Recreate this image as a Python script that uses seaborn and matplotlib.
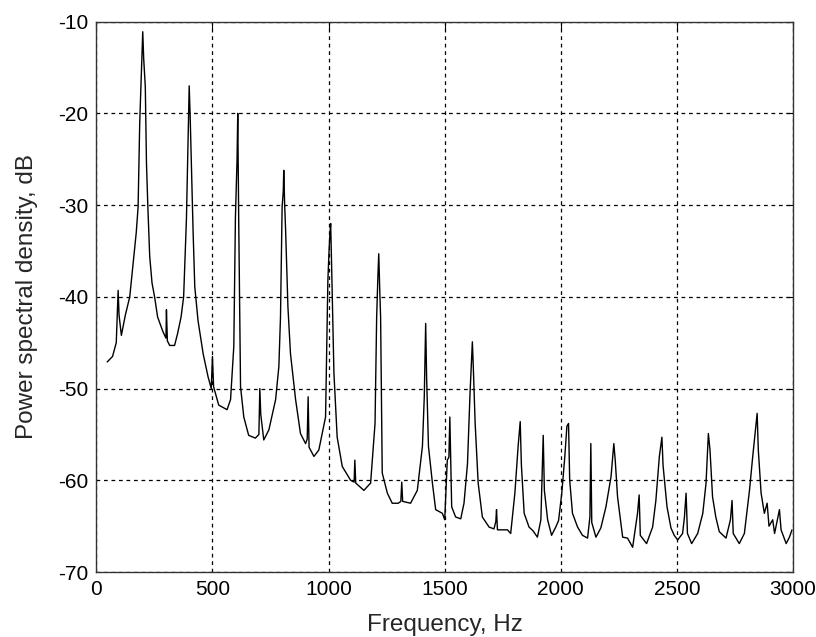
import numpy as np
import pandas as pd
import matplotlib
matplotlib.use('Agg')
import matplotlib.pyplot as plt
import seaborn as sns

# Frequenzen (Hz)
freq = [47, 70, 86, 94, 98, 108, 125, 144, 160, 172, 180, 187, 195, 200, 204, 211, 216, 222, 230, 240,
        251, 264, 287, 300, 302, 306, 316, 337, 350, 365, 376, 388, 395, 400, 404, 410, 417, 424, 438, 460,
        481, 495, 500, 505, 527, 563, 578, 592, 599, 606, 609, 613, 621, 635, 656, 685, 700, 704, 708, 721,
        743, 772, 786, 793, 800, 805, 807, 811, 815, 825, 836, 858, 879, 901, 908, 912, 916, 937, 958, 987,
        997, 1002, 1006, 1009, 1013, 1023, 1037, 1059, 1095, 1110, 1113, 1117, 1152, 1181, 1200, 1207, 1212,
        1216, 1220, 1224, 1231, 1253, 1274, 1300, 1311, 1315, 1319, 1353, 1382, 1404, 1412, 1418, 1422, 1430,
        1447, 1461, 1490, 1500, 1511, 1518, 1522, 1526, 1530, 1547, 1569, 1583, 1598, 1609, 1615, 1619, 1623,
        1631, 1644, 1662, 1691, 1712, 1720, 1723, 1727, 1770, 1784, 1802, 1816, 1825, 1830, 1842, 1863, 1880,
        1899, 1914, 1924, 1929, 1943, 1960, 1978, 1990, 2004, 2017, 2026, 2033, 2038, 2050, 2072, 2093, 2115,
        2125, 2129, 2133, 2151, 2172, 2194, 2216, 2228, 2234, 2244, 2266, 2287, 2309, 2330, 2337, 2342, 2369,
        2395, 2409, 2424, 2435, 2440, 2457, 2474, 2488, 2503, 2524, 2532, 2539, 2545, 2563, 2589, 2611, 2625,
        2635, 2642, 2653, 2667, 2682, 2711, 2730, 2737, 2742, 2768, 2790, 2812, 2826, 2845, 2850, 2862, 2876,
        2888, 2896, 2912, 2920, 2941, 2948, 2970, 2984, 2995]

# Leistungsdichte (dB)
psd = [-47.1, -46.5, -45.0, -39.3, -42.0, -44.2, -42.0, -40.0, -36.0, -33.0, -30.2, -21.0, -15.0, -11.1, -14.0,
       -17.1, -25.4, -30.2, -35.6, -38.5, -40.0, -42.2, -43.8, -44.5, -41.4, -44.8, -45.3, -45.3, -44.0, -42.2,
       -40.0, -31.6, -23.3, -17.0, -20.2, -26.0, -33.1, -38.9, -42.6, -46.2, -48.7, -50.0, -46.5, -49.8, -51.8,
       -52.3, -51.2, -45.4, -31.3, -25.0, -20.0, -31.3, -49.8, -53.1, -55.1, -55.4, -55.0, -50.0, -52.8, -55.6,
       -54.5, -51.2, -47.6, -42.2, -30.2, -28.5, -26.2, -30.0, -32.7, -41.1, -46.2, -51.2, -54.9, -56.0, -55.5,
       -50.9, -56.4, -57.4, -56.7, -53.1, -38.2, -35.0, -33.0, -32.0, -36.5, -48.3, -55.3, -58.5, -60.0, -60.2,
       -57.8, -60.3, -61.1, -60.3, -53.8, -42.2, -38.0, -35.3, -39.0, -42.2, -59.2, -61.4, -62.5, -62.5, -62.3,
       -60.2, -62.3, -62.5, -61.1, -56.3, -50.9, -42.9, -48.7, -56.3, -60.3, -63.2, -63.6, -64.3, -57.8, -57.5,
       -53.1, -58.0, -62.9, -64.0, -64.2, -62.5, -58.2, -50.5, -47.0, -44.9, -47.6, -53.8, -60.3, -64.0, -65.1,
       -65.3, -64.5, -63.2, -65.4, -65.4, -65.8, -61.4, -56.3, -53.6, -58.3, -63.6, -65.1, -65.5, -66.2, -64.3,
       -55.1, -61.1, -64.3, -66.0, -65.1, -64.4, -61.4, -57.4, -54.1, -53.8, -60.0, -63.6, -65.1, -66.0, -66.3,
       -64.0, -56.0, -64.6, -66.2, -65.2, -62.9, -59.6, -56.0, -57.8, -61.8, -66.2, -66.3, -67.3, -63.6, -61.6,
       -66.0, -66.9, -65.1, -62.2, -57.4, -55.3, -58.4, -62.9, -65.2, -66.0, -66.5, -65.8, -64.0, -61.4, -65.8,
       -66.9, -65.8, -63.6, -60.3, -54.9, -56.7, -61.8, -64.0, -65.6, -66.3, -64.3, -62.2, -65.8, -66.9, -65.8,
       -61.1, -57.4, -52.7, -56.7, -61.4, -63.6, -62.5, -65.0, -64.3, -65.8, -63.2, -65.4, -66.9, -66.2, -65.4]

xticks = [0, 500, 1000, 1500, 2000, 2500, 3000]
yticks = [-70, -60, -50, -40, -30, -20, -10]

df = pd.DataFrame({'Frequenz': freq, 'PSD': psd})

sns.set_style('white')
plt.rcParams['font.family'] = ['Liberation Sans', 'DejaVu Sans']
plt.rcParams['axes.unicode_minus'] = False

fig = plt.figure(figsize=(8.16, 6.37), dpi=100)
ax = fig.add_axes([0.118, 0.102, 0.854, 0.864])

sns.lineplot(data=df, x='Frequenz', y='PSD', estimator=None, sort=False,
             color='black', linewidth=1.0, ax=ax)

ax.set_xlim(0, 3000)
ax.set_ylim(-70, -10)
ax.set_xticks(xticks)
ax.set_yticks(yticks)
ax.tick_params(direction='in', top=True, right=True, length=5, labelsize=15, colors='black')
ax.tick_params(axis='x', pad=6)
ax.tick_params(axis='y', pad=6)
ax.grid(True, color='black', linestyle=(0, (3, 3)), linewidth=0.9)
for s in ax.spines.values():
    s.set_visible(True)
    s.set_color('#333333')
    s.set_linewidth(1.0)

ax.set_xlabel('Frequency, Hz', fontsize=17.5)
ax.set_ylabel('Power spectral density, dB', fontsize=17.5)
ax.xaxis.set_label_coords(0.5, -0.076)
ax.yaxis.set_label_coords(-0.083, 0.5)

fig.savefig('out.png', dpi=100)
